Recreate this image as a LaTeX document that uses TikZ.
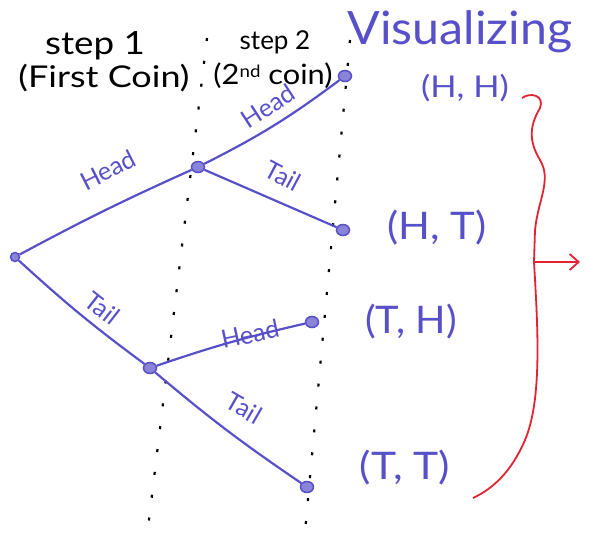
\documentclass[tikz,border=0pt]{standalone}
\usepackage{fontspec}
\setmainfont{Lato}
\usetikzlibrary{arrows.meta}
\definecolor{pen}{RGB}{88,80,200}
\definecolor{redpen}{RGB}{225,35,50}
\tikzset{
  hand/.style={text=black, inner sep=0pt},
  bluetext/.style={text=pen, inner sep=0pt},
  edge/.style={draw=pen, line width=2.2pt},
  elabel/.style={text=pen, inner sep=0pt, font=\fontsize{25}{28}\selectfont},
  dot/.style={ellipse, fill=pen!70, draw=pen, line width=1.5pt, minimum width=13pt, minimum height=11pt, inner sep=0pt},
  guide/.style={draw=black, line width=2.2pt, dash pattern=on 3pt off 20pt},
}
\usetikzlibrary{shapes.geometric}
\begin{document}
\begin{tikzpicture}[x=1pt,y=-1pt]
\useasboundingbox (0,0) rectangle (589,539);
% guides
\coordinate (g1a) at (207,38);
\coordinate (g1b) at (148,528);
\coordinate (g2a) at (350,40);
\coordinate (g2b) at (305,532);
\draw[guide] (g1a) -- (g1b);
\draw[guide] (g2a) -- (g2b);
% headings
\node[hand, font=\fontsize{32}{34}\selectfont, xscale=1.15] (s1) at (95,46) {step 1};
\node[hand, font=\fontsize{30}{34}\selectfont, xscale=1.2] (s1b) at (104,78) {(First Coin)};
\node[hand, font=\fontsize{26}{30}\selectfont] (s2) at (275,42) {step 2};
\node[hand, font=\fontsize{28}{32}\selectfont, xscale=1.1] (s2b) at (273,76) {(2\raisebox{0.5ex}{\fontsize{17}{19}\selectfont nd} coin)};
\node[bluetext, font=\fontsize{46}{50}\selectfont, xscale=1.05] (vis) at (460,32) {Visualizing};
% tree nodes
\node[dot, minimum width=9pt, minimum height=9pt] (r) at (15,257) {};
\node[dot] (h) at (198,167) {};
\node[dot] (t) at (150,368) {};
\node[dot] (hh) at (345,76) {};
\node[dot] (ht) at (343,230) {};
\node[dot] (th) at (312,322) {};
\node[dot] (tt) at (307,487) {};
% edges
\draw[edge] (r) to[bend left=2] (h);
\draw[edge] (r) to[bend right=3] (t);
\draw[edge] (h) to[bend right=5] (hh);
\draw[edge] (h) -- (ht);
\draw[edge] (t) to[bend left=3] (th);
\draw[edge] (t) to[bend right=3] (tt);
% edge labels
\node[elabel, rotate=27] (l1) at (108,170) {Head};
\node[elabel, rotate=-38] (l2) at (102,308) {Tail};
\node[elabel, rotate=33] (l3) at (268,106) {Head};
\node[elabel, rotate=-28] (l4) at (283,176) {Tail};
\node[elabel, rotate=12] (l5) at (250,334) {Head};
\node[elabel, rotate=-30] (l6) at (244,408) {Tail};
% outcomes
\node[bluetext, font=\fontsize{30}{34}\selectfont, xscale=1.15] (o1) at (465,88) {(H, H)};
\node[bluetext, font=\fontsize{38}{42}\selectfont, xscale=1.1] (o2) at (437,228) {(H, T)};
\node[bluetext, font=\fontsize{38}{42}\selectfont, xscale=1.05] (o3) at (411,322) {(T, H)};
\node[bluetext, font=\fontsize{38}{42}\selectfont, xscale=1.12] (o4) at (405,468) {(T, T)};
% brace
\coordinate (bt) at (522,98);
\coordinate (bm) at (534,262);
\coordinate (bb) at (473,498);
\coordinate (ae) at (580,262);
\draw[redpen, line width=1.8pt] (bt) .. controls (530,92) and (545,95) .. (540,108)
  .. controls (530,125) and (528,140) .. (540,160)
  .. controls (552,180) and (538,200) .. (535,230)
  -- (bm) .. controls (538,330) and (542,400) .. (525,440)
  .. controls (510,475) and (490,490) .. (bb);
\draw[redpen, line width=1.8pt, -{Straight Barb[length=9pt,width=16pt]}] (bm) -- (ae);
\end{tikzpicture}
\end{document}
